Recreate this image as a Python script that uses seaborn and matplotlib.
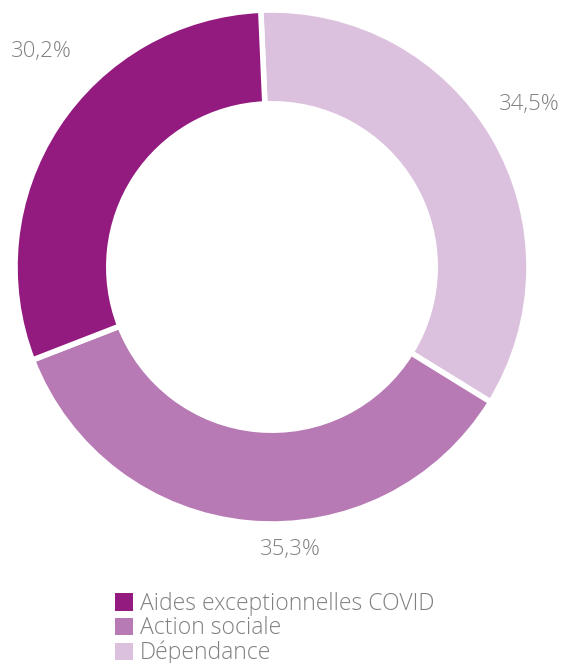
import matplotlib
matplotlib.use("Agg")
import matplotlib.pyplot as plt
import matplotlib.patches as mpatches
import seaborn as sns

# data (clockwise from the top)
categories = ["Dépendance", "Action sociale", "Aides exceptionnelles COVID"]
shares = [34.5, 35.3, 30.2]
labels = ["34,5%", "35,3%", "30,2%"]
colors = ["#dcc1df", "#b77ab4", "#931b80"]
legend_order = ["Aides exceptionnelles COVID", "Action sociale", "Dépendance"]

sns.set_theme(style="white")
plt.rcParams["font.family"] = ["Open Sans", "DejaVu Sans"]
text_color = "#808080"

W, H = 561, 663
fig = plt.figure(figsize=(W / 100, H / 100), dpi=100)
cx, cy, R = 272, 267, 257
ax = fig.add_axes([(cx - R) / W, (H - cy - R) / H, 2 * R / W, 2 * R / H])

wedges, _ = ax.pie(shares, colors=colors, startangle=92.5, counterclock=False,
                   radius=1, wedgeprops=dict(width=0.365, edgecolor="white", linewidth=4))
ax.set_xlim(-1, 1)
ax.set_ylim(-1, 1)
ax.set_aspect("equal")
ax.axis("off")

# percentage labels placed around the ring (baseline positions)
label_pos = [(1.0, 0.611), (0.07, -1.12), (-0.897, 0.816)]
for (x, y), txt in zip(label_pos, labels):
    ax.text(x, y, txt, ha="center", va="baseline", fontsize=16,
            fontweight="light", color=text_color, clip_on=False)

handles = [mpatches.Patch(facecolor=colors[categories.index(c)], edgecolor="none")
           for c in legend_order]
leg = fig.legend(handles, legend_order, loc="upper left",
                 bbox_to_anchor=(115 / W, 1 - 592 / H), frameon=False,
                 fontsize=16.5, labelcolor=text_color, handlelength=0.8,
                 handleheight=0.8, handletextpad=0.3, labelspacing=0.02,
                 borderpad=0, borderaxespad=0)
for t in leg.get_texts():
    t.set_fontweight("light")

fig.savefig("out.png", dpi=100)
